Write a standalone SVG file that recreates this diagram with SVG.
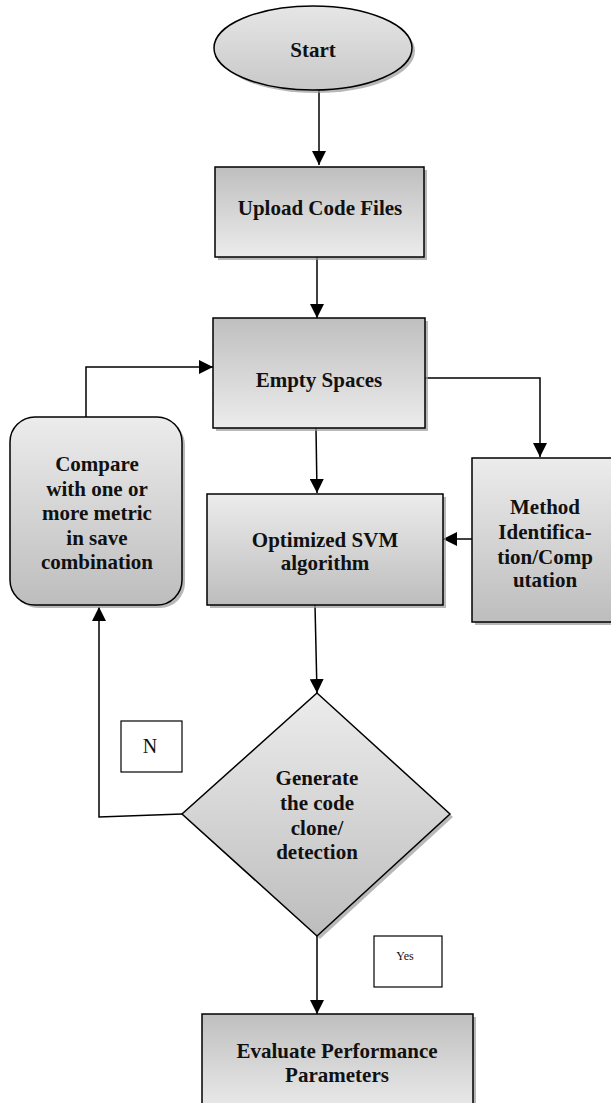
<svg xmlns="http://www.w3.org/2000/svg" width="611" height="1103" viewBox="0 0 611 1103">
<defs>
<linearGradient id="gDown" x1="0" y1="0" x2="0" y2="1"><stop offset="0" stop-color="#ececec"/><stop offset="1" stop-color="#bdbdbd"/></linearGradient>
<linearGradient id="gUp" x1="0" y1="0" x2="0" y2="1"><stop offset="0" stop-color="#bfbfbf"/><stop offset="1" stop-color="#ececec"/></linearGradient>
<linearGradient id="gEll" x1="0" y1="0" x2="0" y2="1"><stop offset="0" stop-color="#e6e6e6"/><stop offset="1" stop-color="#c8c8c8"/></linearGradient>
<marker id="arr" markerWidth="14" markerHeight="14" viewBox="0 0 14 14" refX="14" refY="7" orient="auto" markerUnits="userSpaceOnUse"><path d="M0,0 L14,7 L0,14 z" fill="#000"/></marker>
<style>
.shape{stroke:#000;stroke-width:1.5}
.shadow{fill:#9a9a9a;opacity:0.7}
.lbl{font-family:"Liberation Serif","Times New Roman",serif;font-weight:bold;font-size:21px;text-anchor:middle;fill:#111}
.plain{font-family:"Liberation Serif","Times New Roman",serif;text-anchor:middle;fill:#111}
.conn{fill:none;stroke:#000;stroke-width:1.5}
.box{fill:#fff;stroke:#000;stroke-width:1.2}
</style>
</defs>
<rect width="611" height="1103" fill="#fff"/>

<g id="connectors">
<path class="conn" d="M319,90 V165" marker-end="url(#arr)"/>
<path class="conn" d="M317,257 V318" marker-end="url(#arr)"/>
<path class="conn" d="M86,417 V367 H213" marker-end="url(#arr)"/>
<path class="conn" d="M316,428 L317,493" marker-end="url(#arr)"/>
<path class="conn" d="M425,378 H540 V457" marker-end="url(#arr)"/>
<path class="conn" d="M472,539 H443" marker-end="url(#arr)"/>
<path class="conn" d="M315,605 L317,693" marker-end="url(#arr)"/>
<path class="conn" d="M182,814 L99,817 V607" marker-end="url(#arr)"/>
<path class="conn" d="M317,936 V1014" marker-end="url(#arr)"/>
</g>

<g id="start">
<ellipse class="shadow" cx="316" cy="51" rx="99" ry="42"/>
<ellipse class="shape" cx="313" cy="48" rx="99" ry="42" fill="url(#gEll)"/>
<text class="lbl" x="313" y="57">Start</text>
</g>

<g id="upload">
<rect class="shadow" x="218" y="170" width="209" height="90"/>
<rect class="shape" x="215" y="167" width="209" height="90" fill="url(#gUp)"/>
<text class="lbl" x="320" y="215">Upload Code Files</text>
</g>

<g id="empty">
<rect class="shadow" x="216" y="321" width="212" height="110"/>
<rect class="shape" x="213" y="318" width="212" height="110" fill="url(#gUp)"/>
<text class="lbl" x="319" y="387">Empty Spaces</text>
</g>

<g id="compare">
<rect class="shadow" x="13" y="420" width="172" height="188" rx="25"/>
<rect class="shape" x="10" y="417" width="172" height="188" rx="25" fill="url(#gDown)"/>
<text class="lbl" x="97" y="471">Compare</text>
<text class="lbl" x="97" y="496">with one or</text>
<text class="lbl" x="97" y="520">more metric</text>
<text class="lbl" x="97" y="545">in save</text>
<text class="lbl" x="97" y="569">combination</text>
</g>

<g id="optimized">
<rect class="shadow" x="210" y="497" width="236" height="111"/>
<rect class="shape" x="207" y="494" width="236" height="111" fill="url(#gDown)"/>
<text class="lbl" x="325" y="547">Optimized SVM</text>
<text class="lbl" x="325" y="570">algorithm</text>
</g>

<g id="method">
<rect class="shadow" x="475" y="461" width="140" height="164"/>
<rect class="shape" x="472" y="458" width="140" height="164" fill="url(#gDown)"/>
<text class="lbl" x="545" y="514">Method</text>
<text class="lbl" x="545" y="539">Identifica-</text>
<text class="lbl" x="545" y="564">tion/Comp</text>
<text class="lbl" x="545" y="587">utation</text>
</g>

<g id="decision">
<polygon class="shadow" points="320,696 453,817 320,939 185,817"/>
<polygon class="shape" points="317,693 450,814 317,936 182,814" fill="url(#gDown)"/>
<text class="lbl" x="317" y="785">Generate</text>
<text class="lbl" x="317" y="810">the code</text>
<text class="lbl" x="317" y="835">clone/</text>
<text class="lbl" x="317" y="859">detection</text>
</g>

<g id="label-n">
<rect class="box" x="121" y="721" width="61" height="51"/>
<text class="plain" x="150" y="753" font-size="20">N</text>
</g>

<g id="label-yes">
<rect class="box" x="374" y="936" width="68" height="51"/>
<text class="plain" x="405" y="960" font-size="12">Yes</text>
</g>

<g id="evaluate">
<rect class="shadow" x="205" y="1017" width="271" height="100"/>
<rect class="shape" x="202" y="1014" width="271" height="100" fill="url(#gUp)"/>
<text class="lbl" x="337" y="1058">Evaluate Performance</text>
<text class="lbl" x="337" y="1082">Parameters</text>
</g>
</svg>
